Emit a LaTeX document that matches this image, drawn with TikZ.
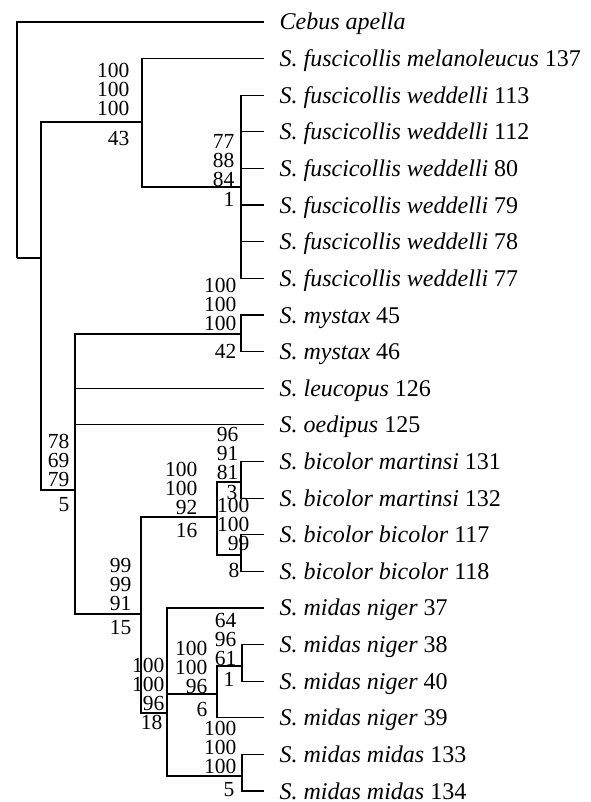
\documentclass[tikz,border=0pt]{standalone}
\usepackage{fontspec}
\setmainfont{Liberation Serif}
\usetikzlibrary{positioning}

\begin{document}
\begin{tikzpicture}[
    x = 1pt,
    y = -1pt,
    line width = 1.2pt,
    ]

    \tikzstyle{leaf}=[
    anchor = west,
    inner xsep = 15pt,
    inner ysep = 0pt,
    text height = 16pt,
    text depth = 0pt,
    font = \fontsize{24}{26}\selectfont,
    ]
    \tikzstyle{supp}=[
    inner sep = 0pt,
    align = right,
    font = \fontsize{21.5}{19}\selectfont,
    ]

    \useasboundingbox (0,0) rectangle (590,802);

    % taxa
    \node[leaf] (l1) at (264,22) {\textit{Cebus apella}};
    \node[leaf] (l2) at (264,58.6) {\textit{S. fuscicollis melanoleucus} 137};
    \node[leaf] (l3) at (264,95.2) {\textit{S. fuscicollis weddelli} 113};
    \node[leaf] (l4) at (264,131.9) {\textit{S. fuscicollis weddelli} 112};
    \node[leaf] (l5) at (264,168.5) {\textit{S. fuscicollis weddelli} 80};
    \node[leaf] (l6) at (264,205.1) {\textit{S. fuscicollis weddelli} 79};
    \node[leaf] (l7) at (264,241.7) {\textit{S. fuscicollis weddelli} 78};
    \node[leaf] (l8) at (264,278.3) {\textit{S. fuscicollis weddelli} 77};
    \node[leaf] (l9) at (264,315) {\textit{S. mystax} 45};
    \node[leaf] (l10) at (264,351.6) {\textit{S. mystax} 46};
    \node[leaf] (l11) at (264,388.2) {\textit{S. leucopus} 126};
    \node[leaf] (l12) at (264,424.8) {\textit{S. oedipus} 125};
    \node[leaf] (l13) at (264,461.4) {\textit{S. bicolor martinsi} 131};
    \node[leaf] (l14) at (264,498.1) {\textit{S. bicolor martinsi} 132};
    \node[leaf] (l15) at (264,534.7) {\textit{S. bicolor bicolor} 117};
    \node[leaf] (l16) at (264,571.3) {\textit{S. bicolor bicolor} 118};
    \node[leaf] (l17) at (264,607.9) {\textit{S. midas niger} 37};
    \node[leaf] (l18) at (264,644.5) {\textit{S. midas niger} 38};
    \node[leaf] (l19) at (264,681.2) {\textit{S. midas niger} 40};
    \node[leaf] (l20) at (264,717.8) {\textit{S. midas niger} 39};
    \node[leaf] (l21) at (264,754.4) {\textit{S. midas midas} 133};
    \node[leaf] (l22) at (264,791) {\textit{S. midas midas} 134};

    % internal nodes
    \coordinate (root) at (17,258);
    \coordinate (nA) at (41,258);
    \coordinate (nB) at (142,122);
    \coordinate (nW) at (241,187);
    \coordinate (nC) at (75,490);
    \coordinate (nM) at (241,334);
    \coordinate (nD) at (141,614);
    \coordinate (nE) at (217,517);
    \coordinate (nMt) at (241,482);
    \coordinate (nBc) at (241,555);
    \coordinate (nF) at (167,713);
    \coordinate (nG) at (217,694);
    \coordinate (nH) at (242,666);
    \coordinate (nI) at (242,776);

    % branches
    \draw (root) |- (l1.west);
    \draw (root) -- (nA);
    \draw (nA) |- (nB);
    \draw (nA) |- (nC);
    \draw (nB) |- (l2.west);
    \draw (nB) |- (nW);
    \draw (nW) |- (l3.west);
    \draw (nW) |- (l4.west);
    \draw (nW) |- (l5.west);
    \draw (nW) |- (l6.west);
    \draw (nW) |- (l7.west);
    \draw (nW) |- (l8.west);
    \draw (nC) |- (nM);
    \draw (nC) |- (l11.west);
    \draw (nC) |- (l12.west);
    \draw (nC) |- (nD);
    \draw (nM) |- (l9.west);
    \draw (nM) |- (l10.west);
    \draw (nD) |- (nE);
    \draw (nD) |- (nF);
    \draw (nE) |- (nMt);
    \draw (nE) |- (nBc);
    \draw (nMt) |- (l13.west);
    \draw (nMt) |- (l14.west);
    \draw (nBc) |- (l15.west);
    \draw (nBc) |- (l16.west);
    \draw (nF) |- (l17.west);
    \draw (nF) |- (nG);
    \draw (nF) |- (nI);
    \draw (nG) |- (nH);
    \draw (nG) |- (l20.west);
    \draw (nH) |- (l18.west);
    \draw (nH) |- (l19.west);
    \draw (nI) |- (l21.west);
    \draw (nI) |- (l22.west);

    % support values
    \node[supp, above left=6pt and 12pt of nB] (sB) {100\\100\\100};
    \node[supp, below left=9pt and 12pt of nB] (sBx) {43};
    \node[supp, above left=0pt and 6pt of nW] (sW) {77\\88\\84};
    \node[supp, below left=5pt and 6pt of nW] (sWx) {1};
    \node[supp, above left=3pt and 4pt of nM] (sM) {100\\100\\100};
    \node[supp, below left=10pt and 4pt of nM] (sMx) {42};
    \node[supp, above left=3pt and 5pt of nC] (sC) {78\\69\\79};
    \node[supp, below left=7pt and 5pt of nC] (sCx) {5};
    \node[supp, above left=2pt and 19pt of nE] (sE) {100\\100\\92};
    \node[supp, below left=6pt and 19pt of nE] (sEx) {16};
    \node[supp, above left=2pt and 2pt of nMt] (sMt) {96\\91\\81};
    \node[supp, below left=3pt and 3pt of nMt] (sMtx) {3};
    \node[supp, above left=4pt and -9pt of nBc] (sBc) {100\\100\\99};
    \node[supp, below left=8pt and 1pt of nBc] (sBcx) {8};
    \node[supp, above left=3pt and 9pt of nD] (sD) {99\\99\\91};
    \node[supp, below left=6pt and 9pt of nD] (sDx) {15};
    \node[supp, above left=2pt and 2pt of nF] (sF) {100\\100\\96};
    \node[supp, below left=2pt and 4pt of nF] (sFx) {18};
    \node[supp, above left=0pt and 9pt of nG] (sG) {100\\100\\96};
    \node[supp, below left=8pt and 9pt of nG] (sGx) {6};
    \node[supp, above left=0pt and 5pt of nH] (sH) {64\\96\\61};
    \node[supp, below left=6pt and 7pt of nH] (sHx) {1};
    \node[supp, above left=2pt and 5pt of nI] (sI) {100\\100\\100};
    \node[supp, below left=6pt and 7pt of nI] (sIx) {5};
\end{tikzpicture}
\end{document}
